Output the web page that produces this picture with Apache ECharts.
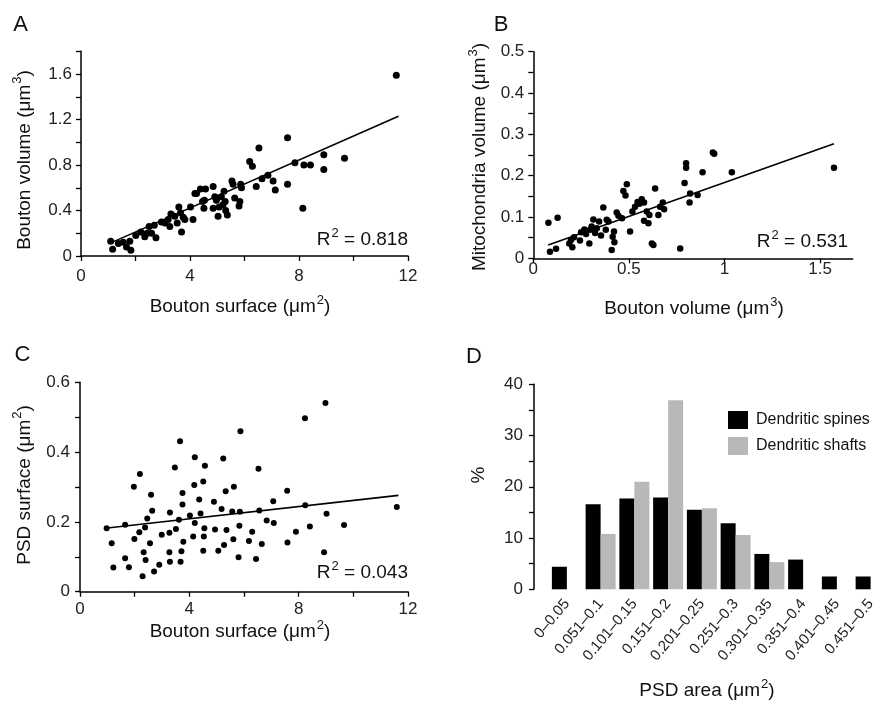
<!DOCTYPE html>
<html>
<head>
<meta charset="utf-8">
<script src="https://cdn.jsdelivr.net/npm/echarts@6/dist/echarts.min.js"></script>
<style>
html,body{margin:0;padding:0;background:#fff;}
#c{width:893px;height:702px;}
</style>
</head>
<body>
<div id="c"></div>
<script>
// ---------- Panel A: bouton surface vs bouton volume ----------
const aSurface = [1.09,1.16,1.37,1.55,1.67,1.79,1.83,2.01,2.20,2.34,2.43,2.50,2.59,2.69,2.75,2.95,3.08,3.20,3.26,3.30,3.44,3.53,3.59,3.65,3.69,3.75,3.81,4.02,4.11,4.18,4.24,4.38,4.46,4.51,4.57,4.53,4.85,4.85,4.91,4.97,5.03,5.07,5.15,5.21,5.25,5.29,5.31,5.37,5.54,5.58,5.64,5.80,5.83,5.86,5.89,6.19,6.29,6.43,6.53,6.64,6.86,7.05,7.13,7.58,7.58,7.85,8.14,8.18,8.42,8.91,8.91,9.67,11.57];
const aVolume  = [0.13,0.06,0.11,0.12,0.08,0.13,0.05,0.18,0.21,0.17,0.20,0.26,0.20,0.27,0.16,0.30,0.29,0.32,0.26,0.37,0.35,0.29,0.43,0.38,0.21,0.34,0.32,0.43,0.32,0.55,0.55,0.59,0.48,0.42,0.59,0.49,0.61,0.42,0.52,0.49,0.35,0.43,0.52,0.45,0.57,0.48,0.40,0.36,0.66,0.63,0.51,0.44,0.48,0.63,0.60,0.83,0.79,0.61,0.95,0.68,0.71,0.66,0.58,1.04,0.63,0.82,0.42,0.80,0.80,0.89,0.76,0.86,1.59];
const aFitX = [1.05, 11.65];
const aFitY = [0.111, 1.229];
const aR2 = '0.818';

// ---------- Panel B: bouton volume vs mitochondria volume ----------
const bBouton = [0.079,0.087,0.119,0.127,0.188,0.197,0.204,0.213,0.244,0.250,0.267,0.276,0.293,0.297,0.305,0.314,0.323,0.332,0.344,0.354,0.366,0.379,0.384,0.393,0.410,0.415,0.422,0.424,0.436,0.445,0.464,0.471,0.482,0.489,0.506,0.518,0.532,0.545,0.555,0.567,0.579,0.579,0.593,0.602,0.607,0.620,0.628,0.637,0.654,0.663,0.677,0.684,0.768,0.791,0.799,0.799,0.817,0.820,0.859,0.885,0.939,0.946,1.038,1.572];
const bMito   = [0.086,0.016,0.023,0.098,0.036,0.044,0.027,0.051,0.043,0.063,0.070,0.059,0.036,0.069,0.077,0.094,0.061,0.073,0.089,0.055,0.123,0.069,0.093,0.089,0.020,0.052,0.065,0.039,0.111,0.103,0.097,0.163,0.152,0.179,0.065,0.113,0.125,0.136,0.132,0.143,0.135,0.091,0.113,0.085,0.105,0.036,0.032,0.169,0.105,0.125,0.135,0.119,0.024,0.182,0.230,0.219,0.135,0.157,0.153,0.208,0.256,0.253,0.208,0.219];
const bFitX = [0.078, 1.572];
const bFitY = [0.032, 0.277];
const bR2 = '0.531';

// ---------- Panel C: bouton surface vs PSD surface ----------
const cSurface = [0.975,1.16,1.22,1.65,1.65,1.79,1.97,1.99,2.17,2.19,2.29,2.33,2.38,2.40,2.46,2.56,2.60,2.64,2.71,2.90,2.99,3.27,3.29,3.27,3.29,3.47,3.51,3.62,3.66,3.68,3.71,3.75,3.75,3.78,4.02,4.14,4.18,4.20,4.20,4.36,4.41,4.51,4.51,4.53,4.55,4.57,4.90,4.94,5.06,5.18,5.24,5.27,5.33,5.36,5.57,5.61,5.63,5.80,5.83,5.85,5.87,6.18,6.30,6.44,6.53,6.56,6.65,6.83,7.07,7.09,7.58,7.59,7.90,8.23,8.24,8.41,8.93,8.98,9.02,9.66,11.59];
const cPsd     = [0.182,0.139,0.069,0.192,0.096,0.070,0.301,0.151,0.170,0.337,0.044,0.113,0.184,0.091,0.210,0.139,0.278,0.232,0.058,0.077,0.163,0.113,0.227,0.169,0.086,0.356,0.180,0.206,0.431,0.086,0.116,0.250,0.283,0.143,0.218,0.158,0.306,0.385,0.197,0.264,0.224,0.316,0.117,0.158,0.182,0.361,0.258,0.178,0.117,0.237,0.382,0.134,0.288,0.177,0.230,0.150,0.301,0.099,0.189,0.229,0.460,0.145,0.172,0.094,0.352,0.233,0.137,0.204,0.259,0.197,0.289,0.141,0.172,0.497,0.248,0.187,0.113,0.541,0.223,0.191,0.243];
const cFitX = [0.92, 11.65];
const cFitY = [0.182, 0.276];
const cR2 = '0.043';

// ---------- Panel D: PSD area histogram ----------
const dCategories = ['0–0.05','0.051–0.1','0.101–0.15','0.151–0.2','0.201–0.25','0.251–0.3','0.301–0.35','0.351–0.4','0.401–0.45','0.451–0.5'];
const dSpines = [4.4, 16.6, 17.7, 17.9, 15.5, 12.9, 6.9, 5.8, 2.5, 2.5];
const dShafts = [0, 10.8, 21.0, 36.9, 15.8, 10.6, 5.3, 0, 0, 0];

// ---------- tick values ----------
const surfTicks = [0,2,4,6,8,10,12];
const surfLabels = [0,4,8,12];
const aVolTicks = [0,0.2,0.4,0.6,0.8,1.0,1.2,1.4,1.6,1.8];
const aVolLabels = [0,0.4,0.8,1.2,1.6];
const bVolTicks = [0,0.5,1,1.5];
const bMitoTicks = [0,0.05,0.1,0.15,0.2,0.25,0.3,0.35,0.4,0.45,0.5];
const bMitoLabels = [0,0.1,0.2,0.3,0.4,0.5];
const cPsdTicks = [0,0.1,0.2,0.3,0.4,0.5,0.6];
const cPsdLabels = [0,0.2,0.4,0.6];
const dPctTicks = [0,5,10,15,20,25,30,35,40];
const dPctLabels = [0,10,20,30,40];

const FONT = "'Liberation Sans', Arial, Helvetica, sans-serif";
const pairs = (xs, ys) => xs.map((x, i) => [x, ys[i]]);

function valAxis(gridIndex, min, max, ticks, labels, opts) {
  opts = opts || {};
  return {
    type: 'value', gridIndex, min, max,
    axisLine: {show: true, onZero: false, lineStyle: {color: '#000', width: 1.5}},
    axisTick: {show: true, customValues: ticks, length: 5, lineStyle: {color: '#000', width: 1.3}},
    axisLabel: {show: true, customValues: labels, color: '#222', fontSize: 17, fontFamily: FONT, margin: opts.margin || 8},
    splitLine: {show: false},
    offset: opts.offset || 0
  };
}

const chart = echarts.init(document.getElementById('c'), null, {renderer: 'canvas'});

const grids = [
  {left: 81, top: 51.25, width: 327, height: 204.75},
  {left: 533.3, top: 51.7, width: 319.4, height: 206.6},
  {left: 80, top: 382.3, width: 328, height: 209.4},
  {left: 550, top: 384.3, width: 337.5, height: 205}
].map(g => Object.assign({containLabel: false, outerBoundsMode: 'none'}, g));

const dotStyle = {color: '#000', opacity: 1};
const fitLine = (xi, yi, xs, ys) => ({
  type: 'line', xAxisIndex: xi, yAxisIndex: yi, data: pairs(xs, ys),
  symbol: 'none', lineStyle: {color: '#000', width: 1.6}, z: 3, silent: true
});

// text with optional superscript: parts = [before, sup, after]
function text(parts, x, y, size, opts) {
  opts = opts || {};
  if (typeof parts === 'string') parts = [parts, '', ''];
  let t = '{n|' + parts[0] + '}';
  if (parts[1]) t += '{s|' + parts[1] + '}';
  if (parts[2]) t += '{n|' + parts[2] + '}';
  return {
    type: 'text', x, y, rotation: opts.rot || 0, z: 10,
    style: {
      text: t, fill: '#111', textAlign: opts.align || 'center', textVerticalAlign: 'middle',
      font: size + 'px ' + FONT,
      rich: {
        n: {fontSize: size, fontFamily: FONT, fill: '#111', lineHeight: size + 4, verticalAlign: 'bottom'},
        s: {fontSize: Math.round(size * 0.68), fontFamily: FONT, fill: '#111', lineHeight: size + 4, verticalAlign: 'top', padding: [0, 0, 0, 1]}
      }
    }
  };
}

const option = {
  animation: false,
  backgroundColor: '#fff',
  grid: grids,
  xAxis: [
    valAxis(0, 0, 12, surfTicks, surfLabels, {margin: 12}),
    valAxis(1, 0, 1.67, bVolTicks, bVolTicks, {margin: 3}),
    valAxis(2, 0, 12, surfTicks, surfLabels, {margin: 9}),
    {type: 'category', gridIndex: 3, data: dCategories,
     axisLine: {show: false}, axisTick: {show: false},
     axisLabel: {rotate: 50, interval: 0, fontSize: 15, color: '#222', fontFamily: FONT, margin: 12}}
  ],
  yAxis: [
    valAxis(0, 0, 1.8, aVolTicks, aVolLabels, {margin: 9}),
    valAxis(1, 0, 0.5, bMitoTicks, bMitoLabels, {margin: 9}),
    valAxis(2, 0, 0.6, cPsdTicks, cPsdLabels, {margin: 10}),
    valAxis(3, 0, 40, dPctTicks, dPctLabels, {margin: 11, offset: 16})
  ],
  legend: {
    show: true, orient: 'vertical', left: 723, top: 406,
    itemWidth: 20, itemHeight: 18, itemGap: 8, icon: 'rect',
    textStyle: {fontSize: 16, color: '#111', fontFamily: FONT, padding: [0, 0, 0, 3]},
    data: ['Dendritic spines', 'Dendritic shafts']
  },
  series: [
    {type: 'scatter', xAxisIndex: 0, yAxisIndex: 0, data: pairs(aSurface, aVolume), symbolSize: 7, itemStyle: dotStyle},
    fitLine(0, 0, aFitX, aFitY),
    {type: 'scatter', xAxisIndex: 1, yAxisIndex: 1, data: pairs(bBouton, bMito), symbolSize: 6.5, itemStyle: dotStyle},
    fitLine(1, 1, bFitX, bFitY),
    {type: 'scatter', xAxisIndex: 2, yAxisIndex: 2, data: pairs(cSurface, cPsd), symbolSize: 6, itemStyle: dotStyle},
    fitLine(2, 2, cFitX, cFitY),
    {name: 'Dendritic spines', type: 'bar', xAxisIndex: 3, yAxisIndex: 3, data: dSpines,
     barWidth: 15, barGap: '0%', itemStyle: {color: '#000'}},
    {name: 'Dendritic shafts', type: 'bar', xAxisIndex: 3, yAxisIndex: 3, data: dShafts,
     barWidth: 15, barGap: '0%', itemStyle: {color: '#b8b8b8'}}
  ],
  graphic: [
    text('A', 20.5, 22.5, 22),
    text('B', 501, 22.5, 22),
    text('C', 22.5, 353, 22),
    text('D', 474, 355, 22),
    text(['Bouton surface (μm', '2', ')'], 240, 305, 19),
    text(['Bouton volume (μm', '3', ')'], 22.5, 160, 19, {rot: Math.PI / 2}),
    text(['Bouton volume (μm', '3', ')'], 694, 307, 19),
    text(['Mitochondria volume (μm', '3', ')'], 478, 157, 19, {rot: Math.PI / 2}),
    text(['Bouton surface (μm', '2', ')'], 240, 630, 19),
    text(['PSD surface (μm', '2', ')'], 22.5, 485, 19, {rot: Math.PI / 2}),
    text('%', 477, 475, 19, {rot: Math.PI / 2}),
    text(['PSD area (μm', '2', ')'], 707, 689, 19),
    text(['R', '2', ' = ' + aR2], 408, 238, 19, {align: 'right'}),
    text(['R', '2', ' = ' + bR2], 848, 240, 19, {align: 'right'}),
    text(['R', '2', ' = ' + cR2], 408, 571, 19, {align: 'right'})
  ]
};
chart.setOption(option);
</script>
</body>
</html>
